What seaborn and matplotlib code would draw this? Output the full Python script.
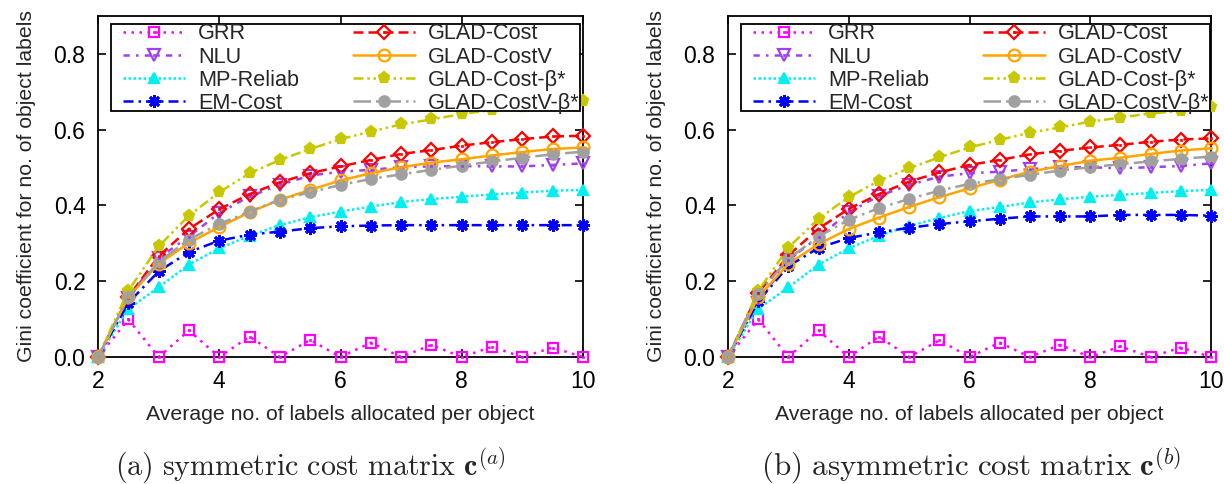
import matplotlib
matplotlib.use("Agg")
import matplotlib.pyplot as plt
from matplotlib.patches import Rectangle
import seaborn as sns

# Average number of labels allocated per object
x_vals = [2.0, 2.5, 3.0, 3.5, 4.0, 4.5, 5.0, 5.5, 6.0, 6.5, 7.0, 7.5, 8.0, 8.5, 9.0, 9.5, 10.0]

method_names = ["GRR", "NLU", "MP-Reliab", "EM-Cost",
                "GLAD-Cost", "GLAD-CostV", "GLAD-Cost-β*", "GLAD-CostV-β*"]

# (a) symmetric cost matrix
grr_a = [0, 0.099, 0, 0.070, 0, 0.054, 0, 0.045, 0, 0.038, 0, 0.032, 0, 0.027, 0, 0.025, 0]
nlu_a = [0, 0.156, 0.261, 0.318, 0.380, 0.424, 0.454, 0.479, 0.489, 0.494, 0.501, 0.503, 0.504, 0.503, 0.503, 0.507, 0.511]
mpr_a = [0, 0.127, 0.184, 0.244, 0.287, 0.320, 0.348, 0.369, 0.384, 0.397, 0.409, 0.417, 0.423, 0.429, 0.434, 0.439, 0.441]
emc_a = [0, 0.143, 0.226, 0.277, 0.307, 0.323, 0.331, 0.340, 0.345, 0.347, 0.348, 0.348, 0.348, 0.348, 0.348, 0.348, 0.348]
gc_a = [0, 0.159, 0.266, 0.338, 0.390, 0.430, 0.461, 0.485, 0.503, 0.520, 0.536, 0.546, 0.558, 0.567, 0.575, 0.582, 0.584]
gcv_a = [0, 0.158, 0.246, 0.301, 0.343, 0.382, 0.415, 0.441, 0.466, 0.485, 0.501, 0.513, 0.522, 0.532, 0.541, 0.549, 0.553]
gcb_a = [0, 0.175, 0.292, 0.373, 0.435, 0.485, 0.520, 0.549, 0.575, 0.595, 0.614, 0.627, 0.641, 0.652, 0.659, 0.668, 0.675]
gcvb_a = [0, 0.158, 0.251, 0.310, 0.351, 0.384, 0.415, 0.435, 0.454, 0.470, 0.482, 0.494, 0.505, 0.516, 0.526, 0.535, 0.542]

# (b) asymmetric cost matrix
grr_b = [0, 0.099, 0, 0.070, 0, 0.054, 0, 0.044, 0, 0.038, 0, 0.032, 0, 0.028, 0, 0.025, 0]
nlu_b = [0, 0.143, 0.257, 0.316, 0.382, 0.425, 0.454, 0.476, 0.485, 0.489, 0.496, 0.501, 0.501, 0.498, 0.501, 0.504, 0.511]
mpr_b = [0, 0.127, 0.184, 0.244, 0.287, 0.320, 0.346, 0.367, 0.385, 0.396, 0.408, 0.416, 0.423, 0.428, 0.433, 0.438, 0.441]
emc_b = [0, 0.147, 0.240, 0.288, 0.314, 0.329, 0.341, 0.351, 0.358, 0.365, 0.371, 0.371, 0.371, 0.375, 0.375, 0.375, 0.373]
gc_b = [0, 0.169, 0.268, 0.339, 0.391, 0.430, 0.463, 0.487, 0.507, 0.520, 0.535, 0.544, 0.553, 0.560, 0.568, 0.574, 0.577]
gcv_b = [0, 0.158, 0.246, 0.298, 0.338, 0.368, 0.396, 0.422, 0.445, 0.468, 0.489, 0.504, 0.518, 0.526, 0.536, 0.545, 0.551]
gcb_b = [0, 0.174, 0.289, 0.365, 0.422, 0.465, 0.498, 0.527, 0.553, 0.573, 0.592, 0.606, 0.621, 0.632, 0.643, 0.649, 0.659]
gcvb_b = [0, 0.167, 0.259, 0.318, 0.362, 0.393, 0.417, 0.439, 0.457, 0.469, 0.481, 0.492, 0.501, 0.509, 0.516, 0.523, 0.529]

x_ticks = [2, 4, 6, 8, 10]
y_ticks = [0.0, 0.2, 0.4, 0.6, 0.8]
x_label = "Average no. of labels allocated per object"
y_label = "Gini coefficient for no. of object labels"
captions = [r"$\mathrm{(a)\ symmetric\ cost\ matrix\ }\mathbf{c}^{(a)}$",
            r"$\mathrm{(b)\ asymmetric\ cost\ matrix\ }\mathbf{c}^{(b)}$"]

# line style per method: colour, dash pattern, marker, marker size, filled, centre dot
styles = {
    "GRR":           ("#ff00ff", (0, (1, 2.2)),              "s", 7.0, False, True),
    "NLU":           ("#a040f0", (0, (2.5, 2.5, 1, 2.5)),    "v", 8.5, False, True),
    "MP-Reliab":     ("#00f0f0", (0, (1, 1)),                "^", 7.5, True, False),
    "EM-Cost":       ("#0000ff", (0, (4, 2, 1, 2)),          (8, 2, 0), 9.0, True, False),
    "GLAD-Cost":     ("#ff0000", (0, (4, 2)),                "D", 7.0, False, True),
    "GLAD-CostV":    ("#ffa500", "-",                        "o", 8.5, False, True),
    "GLAD-Cost-β*":  ("#c8c800", (0, (4, 1.5, 1, 1.5, 1, 1.5)), "p", 8.0, True, False),
    "GLAD-CostV-β*": ("#a0a0a0", (0, (7, 2, 1, 2)),          "o", 7.5, True, False),
}

sns.set_style("ticks")
plt.rcParams["font.family"] = ["Liberation Sans", "DejaVu Sans"]
plt.rcParams["mathtext.fontset"] = "cm"

W, H = 1224, 484
fig = plt.figure(figsize=(W / 100, H / 100), dpi=100)
ax_a = fig.add_axes([98 / W, 127 / H, 485 / W, 341 / H])
ax_b = fig.add_axes([728 / W, 127 / H, 483 / W, 341 / H])

panels = [
    (ax_a, [grr_a, nlu_a, mpr_a, emc_a, gc_a, gcv_a, gcb_a, gcvb_a], 310, 21.6),
    (ax_b, [grr_b, nlu_b, mpr_b, emc_b, gc_b, gcv_b, gcb_b, gcvb_b], 971, 22.4),
]

for idx, (ax, series, cap_x, cap_size) in enumerate(panels):
    handles = []
    for name, yv in zip(method_names, series):
        color, ls, mk, ms, filled, dot = styles[name]
        mew = 2.0 if name == "EM-Cost" else 1.6
        sns.lineplot(x=x_vals, y=yv, ax=ax, color=color, linestyle=ls,
                     linewidth=1.8, marker=mk, markersize=ms,
                     markerfacecolor=color if filled else "none",
                     markeredgecolor=color, markeredgewidth=mew,
                     clip_on=False, zorder=3)
        parts = [ax.lines[-1]]
        if dot:
            sns.lineplot(x=x_vals, y=yv, ax=ax, color=color, linestyle="none",
                         marker="s", markersize=1.6, markerfacecolor=color,
                         markeredgecolor=color, markeredgewidth=0.5,
                         clip_on=False, zorder=4)
            parts.append(ax.lines[-1])
        handles.append(tuple(parts))

    ax.set_xlim(2, 10)
    ax.set_ylim(0, 0.9)
    ax.set_xticks(x_ticks)
    ax.set_yticks(y_ticks)
    ax.set_yticklabels([f"{v:.1f}" for v in y_ticks])
    ax.tick_params(direction="in", length=6, width=1.2, top=True, right=True,
                   labelsize=16.5, pad=9, colors="black")
    for sp in ax.spines.values():
        sp.set_visible(True)
        sp.set_linewidth(1.3)
        sp.set_color("black")
    ax.set_xlabel(x_label, fontsize=15.3, labelpad=9)
    ax.set_ylabel(y_label, fontsize=15.3, labelpad=13)

    # legend box drawn separately so the longest entry may run past its edge
    aw = ax.get_position().width * W
    ah = ax.get_position().height * H
    box = Rectangle((13 / aw, 1 - 95 / ah), 469 / aw, 87 / ah,
                    transform=ax.transAxes, facecolor="white",
                    edgecolor="black", linewidth=1.3, zorder=5)
    ax.add_patch(box)
    leg = ax.legend(handles, method_names, ncol=2, loc="upper left",
                    bbox_to_anchor=(25 / aw, 1 - 7.5 / ah),
                    fontsize=15.6, frameon=False, borderpad=0.0,
                    handlelength=2.85, handletextpad=0.6, labelspacing=0.1,
                    columnspacing=2.5, borderaxespad=0.0)
    leg.set_zorder(6)

    fig.text(cap_x / W, 1 - 466 / H, captions[idx],
             ha="center", va="center", fontsize=cap_size)

fig.savefig("out.png", dpi=100)
